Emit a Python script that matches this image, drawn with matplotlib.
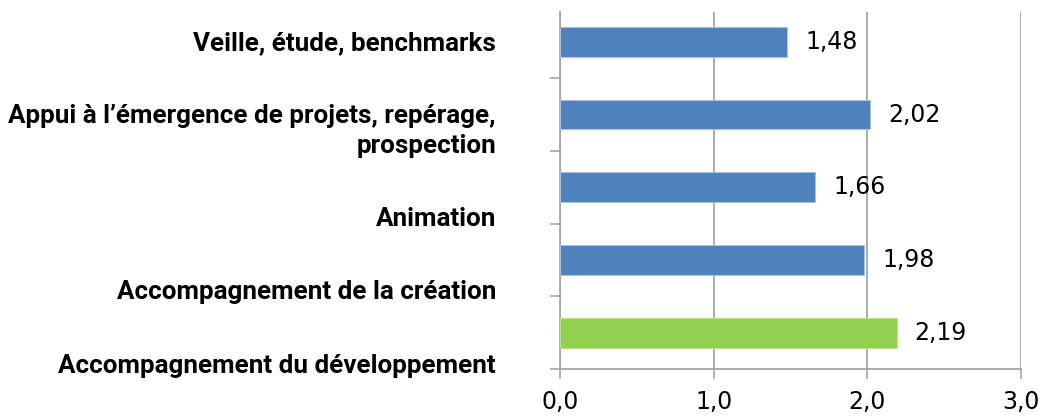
import matplotlib
matplotlib.use("Agg")
import matplotlib.pyplot as plt
import numpy as np

categories = [
    "Veille, étude, benchmarks",
    "Appui à l’émergence de projets, repérage,\nprospection",
    "Animation",
    "Accompagnement de la création",
    "Accompagnement du développement",
]
values = [1.48, 2.02, 1.66, 1.98, 2.19]
value_labels = ["1,48", "2,02", "1,66", "1,98", "2,19"]
x_ticks = [0, 1, 2, 3]
x_tick_labels = ["0,0", "1,0", "2,0", "3,0"]

BLUE = "#4F81BD"
GREEN = "#92D050"
GRID = "#A6A6A6"

colors = [BLUE, BLUE, BLUE, BLUE, GREEN]
edges = ["#A7C0E0", "#A7C0E0", "#A7C0E0", "#A7C0E0", "#B5E28A"]
# label baselines (last line) sit a bit below each bar in the original
label_shift = [0.112, 0.525, 0.533, 0.544, 0.551]

fig = plt.figure(figsize=(10.42, 4.18), dpi=100)
ax = fig.add_axes([560 / 1042, 49 / 418, 461 / 1042, (369 - 12) / 418])

y = np.arange(len(categories))
ax.barh(y, values, height=0.41, color=colors, edgecolor=edges, linewidth=0.8, zorder=3)

ax.set_xlim(0, 3)
ax.set_ylim(4.5, -0.41)
ax.set_xticks(x_ticks)
ax.set_xticklabels(x_tick_labels, fontsize=17, family="DejaVu Sans")
ax.set_yticks(np.arange(0.5, 5, 1))
ax.set_yticklabels([])

ax.xaxis.grid(True, color=GRID, linewidth=1.3, zorder=0)
ax.tick_params(axis="x", length=7, width=1.2, color=GRID, pad=8)
ax.tick_params(axis="y", length=7, width=1.2, color=GRID)
for side in ["top", "right"]:
    ax.spines[side].set_visible(False)
for side in ["left", "bottom"]:
    ax.spines[side].set_color(GRID)
    ax.spines[side].set_linewidth(1.3)

for i, (v, lab) in enumerate(zip(values, value_labels)):
    ax.annotate(lab, (v, i), xytext=(13, 0), textcoords="offset points",
                va="center", ha="left", fontsize=17, family="DejaVu Sans")

for i, cat in enumerate(categories):
    ax.text(-0.139, i + label_shift[i], cat, transform=ax.get_yaxis_transform(),
            ha="right", va="baseline", fontsize=18.7, fontweight="bold",
            family=["Roboto", "DejaVu Sans"],
            linespacing=1.3, multialignment="right")

fig.savefig("out.png", dpi=100)
